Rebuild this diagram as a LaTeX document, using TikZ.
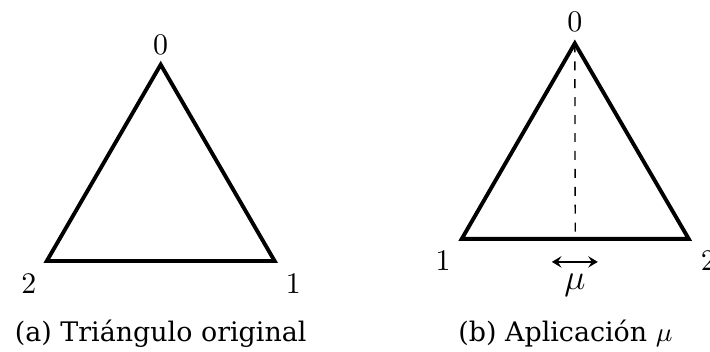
\documentclass[tikz,border=0pt]{standalone}
\usepackage{fontspec}
\newfontfamily\capfont{DejaVu Serif}
\usetikzlibrary{arrows.meta, positioning, calc}
\tikzset{
  every picture/.style={line width=1.3pt},
  tri/.style={draw=black, line width=1.3pt, line join=miter},
  vlabel/.style={inner sep=0pt, font=\normalsize},
  axis/.style={dashed, line width=0.45pt},
  slide/.style={{Stealth[length=3.2pt, width=3.8pt, inset=1.2pt]}-{Stealth[length=3.2pt, width=3.8pt, inset=1.2pt]}, line width=0.55pt},
  caption/.style={inner sep=0pt, font=\capfont\fontsize{9}{11}\selectfont},
}

\begin{document}
\begin{tikzpicture}
  \useasboundingbox (0,0) rectangle (8.35,-4.13);
  % (a) original triangle
  \coordinate (a0) at (1.89,-0.76);
  \coordinate (a1) at (3.23,-3.07);
  \coordinate (a2) at (0.55,-3.07);
  \draw[tri] (a0) -- (a1) -- (a2) -- cycle;
  \node[vlabel] (la0) at (1.89,-0.53) {$0$};
  \node[vlabel] (la1) at (3.45,-3.34) {$1$};
  \node[vlabel] (la2) at (0.34,-3.34) {$2$};
  \node[caption] (capa) at (1.89,-3.92) {(a) Triángulo original};
  % (b) reflected triangle
  \coordinate (b0) at (6.76,-0.51);
  \coordinate (b1) at (5.43,-2.81);
  \coordinate (b2) at (8.10,-2.81);
  \coordinate (bm) at ($(b1)!0.5!(b2)$);
  \draw[tri] (b0) -- (b1) -- (b2) -- cycle;
  \draw[axis] (b0) -- (bm);
  \node[vlabel] (lb0) at (6.76,-0.26) {$0$};
  \node[vlabel] (lb1) at (5.21,-3.07) {$1$};
  \node[vlabel] (lb2) at (8.33,-3.07) {$2$};
  \coordinate (ml) at (6.49,-3.08);
  \coordinate (mr) at (7.03,-3.08);
  \draw[slide] (ml) -- (mr);
  \node[vlabel, font=\large] (mu) at (6.76,-3.35) {$\mu$};
  \node[caption] (capb) at (6.65,-3.92) {(b) Aplicación $\mu$};
\end{tikzpicture}
\end{document}
